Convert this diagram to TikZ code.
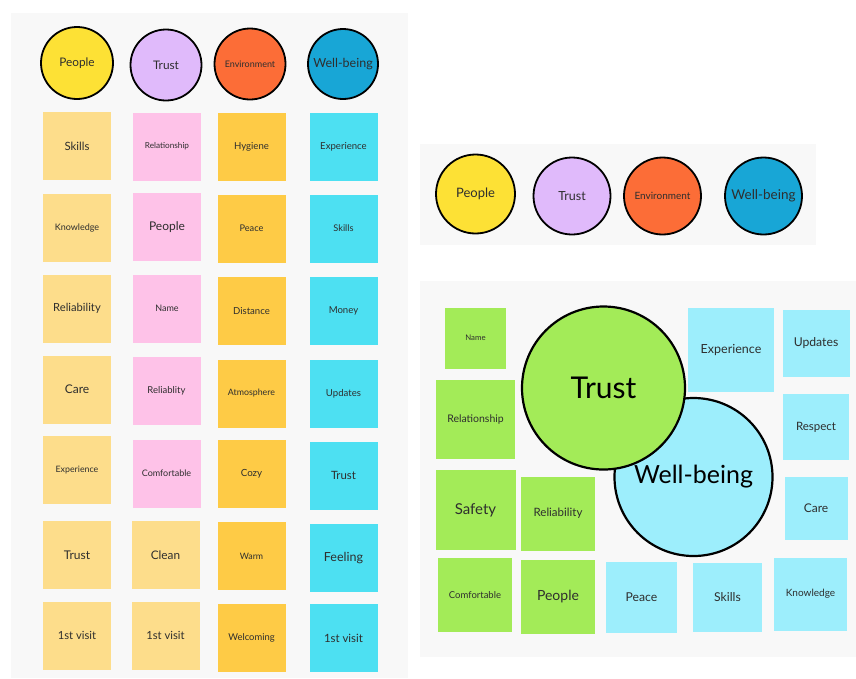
\documentclass[tikz,border=0pt]{standalone}
\usepackage{fontspec}
\setmainfont{Lato}
\begin{document}
\begin{tikzpicture}[x=1pt,y=-1pt,
  panel/.style={fill=panelgray,draw=none},
  sticky/.style={draw=none,minimum width=#1,minimum height=#1,inner sep=1pt,text=ink,align=center},
  sticky/.default=68,
  topic/.style={circle,draw=black,line width=1.8pt,minimum size=#1,inner sep=0pt,text=ink},
  fs/.style={font=\fontsize{#1}{#1}\selectfont}]
\definecolor{panelgray}{HTML}{F8F8F8}
\definecolor{ink}{HTML}{2E2E2E}
\definecolor{paleyellow}{HTML}{FDDD8B}
\definecolor{pink}{HTML}{FEC2E8}
\definecolor{amber}{HTML}{FECB46}
\definecolor{cyan}{HTML}{4DE0F2}
\definecolor{lime}{HTML}{A3EB58}
\definecolor{skyblue}{HTML}{9DEEFC}
\definecolor{ppl}{HTML}{FDE135}
\definecolor{lav}{HTML}{E0BAFB}
\definecolor{env}{HTML}{FC6D37}
\definecolor{wb}{HTML}{18A6D6}

\useasboundingbox (0,0) rectangle (856,678);
\fill[white] (0,0) rectangle (856,678);

% ---------- left board: four topic columns ----------
\path[panel] (11,13) rectangle (408,678);

\node[topic=72pt,fill=ppl,fs=11.8] (c1) at (77,63) {People};
\node[topic=71pt,fill=lav,fs=11.8] (c2) at (166,65) {Trust};
\node[topic=71pt,fill=env,fs=9] (c3) at (250,64) {Environment};
\node[topic=70pt,fill=wb,fs=12.5] (c4) at (343,64) {Well-being};

% people column
\node[sticky,fill=paleyellow,fs=11.4] (p1) at (77,146) {Skills};
\node[sticky,fill=paleyellow,fs=9] (p2) at (77,228) {Knowledge};
\node[sticky,fill=paleyellow,fs=11.2] (p3) at (77,308.5) {Reliability};
\node[sticky,fill=paleyellow,fs=12] (p4) at (77,389.5) {Care};
\node[sticky,fill=paleyellow,fs=8.8] (p5) at (77,470) {Experience};
\node[sticky,fill=paleyellow,fs=12] (p6) at (77,555) {Trust};
\node[sticky,fill=paleyellow,fs=11.2] (p7) at (77,635.5) {1st visit};

% trust column
\node[sticky,fill=pink,fs=8.2] (t1) at (167,146.5) {Relationship};
\node[sticky,fill=pink,fs=12] (t2) at (167,227) {People};
\node[sticky,fill=pink,fs=9] (t3) at (167,308.5) {Name};
\node[sticky,fill=pink,fs=9.5] (t4) at (166.5,391) {Reliablity};
\node[sticky,fill=pink,fs=9] (t5) at (166.5,473.5) {Comfortable};
\node[sticky,fill=paleyellow,fs=11.8] (t6) at (165.5,555) {Clean};
\node[sticky,fill=paleyellow,fs=11.2] (t7) at (165.5,635.5) {1st visit};

% environment column
\node[sticky,fill=amber,fs=9.6] (e1) at (251.5,146.5) {Hygiene};
\node[sticky,fill=amber,fs=9.2] (e2) at (251.5,228.5) {Peace};
\node[sticky,fill=amber,fs=9.6] (e3) at (251.5,311) {Distance};
\node[sticky,fill=amber,fs=8.8] (e4) at (251.5,393.5) {Atmosphere};
\node[sticky,fill=amber,fs=9.8] (e5) at (251.5,473.5) {Cozy};
\node[sticky,fill=amber,fs=8.8] (e6) at (251.5,556) {Warm};
\node[sticky,fill=amber,fs=9.4] (e7) at (251.5,638) {Welcoming};

% well-being column
\node[sticky,fill=cyan,fs=9.6] (w1) at (343.5,146.5) {Experience};
\node[sticky,fill=cyan,fs=9.2] (w2) at (343.5,228.5) {Skills};
\node[sticky,fill=cyan,fs=9.6] (w3) at (343.5,311) {Money};
\node[sticky,fill=cyan,fs=9.6] (w4) at (343.5,393.5) {Updates};
\node[sticky,fill=cyan,fs=11.4] (w5) at (343.5,475.5) {Trust};
\node[sticky,fill=cyan,fs=12.5] (w6) at (343.5,558) {Feeling};
\node[sticky,fill=cyan,fs=11.4] (w7) at (343.5,638) {1st visit};

% ---------- legend strip ----------
\path[panel] (420,144) rectangle (816,245);
\node[topic=79pt,fill=ppl,fs=13] (l1) at (475.5,194) {People};
\node[topic=77pt,fill=lav,fs=12.5] (l2) at (572,196) {Trust};
\node[topic=77pt,fill=env,fs=10] (l3) at (662.5,196) {Environment};
\node[topic=77pt,fill=wb,fs=13.5] (l4) at (763.5,196) {Well-being};

% ---------- clustering board ----------
\path[panel] (420,281) rectangle (856,657);

\node[sticky=61,fill=lime,fs=7.8] (g1) at (475.5,338) {Name};
\node[sticky=79,fill=lime,fs=10.5] (g2) at (475.5,419.5) {Relationship};
\node[sticky=80,fill=lime,fs=15] (g3) at (475.5,510) {Safety};
\node[sticky=74,fill=lime,fs=11.5] (g4) at (558,513.5) {Reliability};
\node[sticky=74,fill=lime,fs=9.5] (g5) at (475,595) {Comfortable};
\node[sticky=74,fill=lime,fs=14] (g6) at (558,596.5) {People};

\node[minimum width=86,minimum height=84,fill=skyblue,text=ink,fs=12.5] (b1) at (731,350) {Experience};
\node[sticky=67,fill=skyblue,fs=12.2] (b2) at (816,343.5) {Updates};
\node[sticky=66,fill=skyblue,fs=11.5] (b3) at (816,427) {Respect};
\node[sticky=63,fill=skyblue,fs=12] (b4) at (816,508.5) {Care};
\node[sticky=71,fill=skyblue,fs=12.2] (b5) at (641.5,597) {Peace};
\node[sticky=69,fill=skyblue,fs=12.2] (b6) at (727.5,597) {Skills};
\node[sticky=73,fill=skyblue,fs=10] (b7) at (810.5,594) {Knowledge};

\node[topic=158pt,line width=2.2pt,fill=skyblue] (wellbeing) at (693.5,477) {};
\node[topic=163pt,line width=2.2pt,fill=lime] (trust) at (603.5,388) {};
\node[text=black,fs=30] (trustlabel) at (trust.center) {Trust};
\node[text=black,fs=25] (wblabel) at (wellbeing.center) {Well-being};
\end{tikzpicture}
\end{document}
